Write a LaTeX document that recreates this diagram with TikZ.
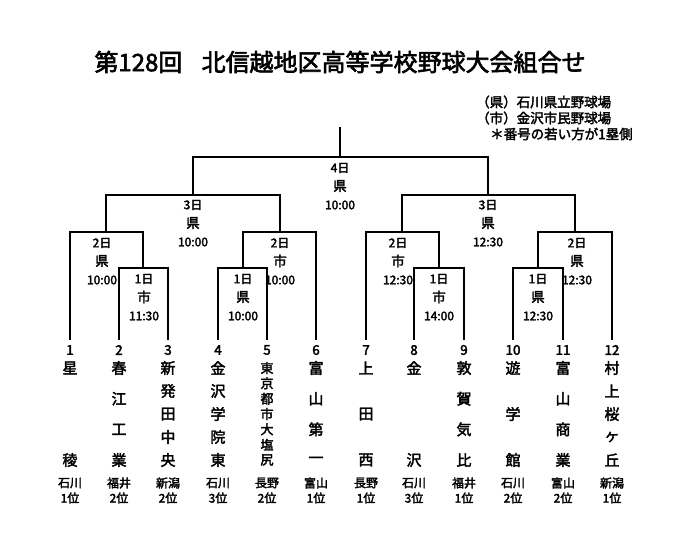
\documentclass[tikz,border=0pt]{standalone}
\usepackage{fontspec}
\newfontfamily\jp{Noto Sans CJK JP}[AutoFakeBold=2.5]
\begin{document}
\begin{tikzpicture}[x=1pt,y=-1pt,
  br/.style={line width=1.2pt},
  lab/.style={font=\jp\bfseries\fontsize{12}{14}\selectfont,inner sep=0pt},
  labb/.style={font=\jp\bfseries\fontsize{13.5}{16}\selectfont,inner sep=0pt},
  ch/.style={font=\jp\bfseries\fontsize{15}{17}\selectfont,inner sep=0pt},
  chs/.style={font=\jp\bfseries\fontsize{13}{15}\selectfont,inner sep=0pt},
  pref/.style={font=\jp\bfseries\fontsize{12}{14}\selectfont,inner sep=0pt,align=center}]
\useasboundingbox (0,0) rectangle (700,542);
\node[font=\jp\bfseries\fontsize{24}{28}\selectfont] (title) at (340,62) {第128回\hspace{0.8em}北信越地区高等学校野球大会組合せ};
\node[labb,anchor=west] (l1) at (476,102) {（県）石川県立野球場};
\node[labb,anchor=west] (l2) at (476,118) {（市）金沢市民野球場};
\node[labb,anchor=west] (l3) at (490,134) {＊番号の若い方が1塁側};
% leaves
\foreach \n/\x in {1/70,2/119,3/168,4/218,5/267,6/316,7/366,8/414,9/464,10/513,11/563,12/612}{
  \coordinate (t\n) at (\x,340);
  \node[labb] (n\n) at (\x,350) {\n};
}
% first round
\draw[br] (t2) |- (143,268) coordinate (a) -| (t3);
\draw[br] (t4) |- (243,268) coordinate (b) -| (t5);
\draw[br] (t8) |- (439,268) coordinate (c) -| (t9);
\draw[br] (t10) |- (538,268) coordinate (d) -| (t11);
% second round
\draw[br] (t1) |- (106,232) coordinate (e) -| (a);
\draw[br] (b) |- (280,232) coordinate (f) -| (t6);
\draw[br] (t7) |- (402,232) coordinate (g) -| (c);
\draw[br] (d) |- (575,232) coordinate (h) -| (t12);
% semis
\draw[br] (e) |- (193,195) coordinate (i) -| (f);
\draw[br] (g) |- (488,195) coordinate (j) -| (h);
% final
\draw[br] (i) |- (340,157) coordinate (k) -| (j);
\draw[br] (k) -- (340,127) coordinate (top);
% labels
\foreach \x/\y/\d/\p/\t in {340/168/4/県/10:00, 193/205/3/県/10:00, 488/205/3/県/12:30,
  102/243/2/県/10:00, 280/243/2/市/10:00, 398/243/2/市/12:30, 577/243/2/県/12:30,
  144/279/1/市/11:30, 243/279/1/県/10:00, 439/279/1/市/14:00, 538/279/1/県/12:30}{
  \node[lab] at (\x,\y) {\d 日};
  \node[labb] at (\x,\y+18) {\p};
  \node[lab] at (\x,\y+37) {\t};
}
% team names
\foreach \x/\n/\s in {70/2/{星,稜},119/4/{春,江,工,業},168/5/{新,発,田,中,央},218/5/{金,沢,学,院,東},
  316/4/{富,山,第,一},366/3/{上,田,西},414/2/{金,沢},464/4/{敦,賀,気,比},513/3/{遊,学,館},
  563/4/{富,山,商,業},612/5/{村,上,桜,ヶ,丘}}{
  \foreach \c [count=\i] in \s {
    \node[ch] at (\x,{368+(\i-1)*92/(\n-1)}) {\c};
  }
}
\foreach \c [count=\i] in {東,京,都,市,大,塩,尻}{
  \node[chs] at (267,{368+(\i-1)*92/6}) {\c};
}
\foreach \x/\p/\r in {70/石川/1,119/福井/2,168/新潟/2,218/石川/3,267/長野/2,316/富山/1,
  366/長野/1,414/石川/3,464/福井/1,513/石川/2,563/富山/2,612/新潟/1}{
  \node[pref] at (\x,483) {\p};
  \node[pref] at (\x,498) {\r 位};
}
\end{tikzpicture}
\end{document}
